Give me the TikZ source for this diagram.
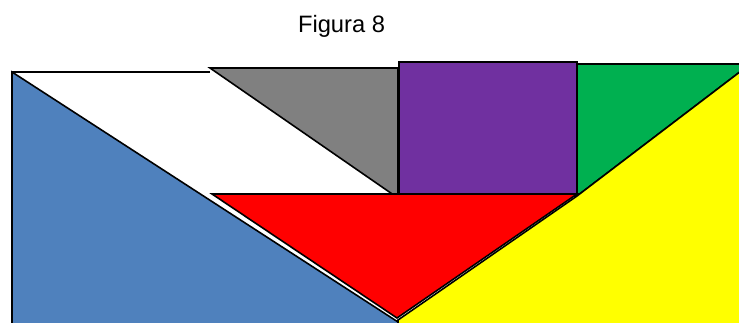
\documentclass[tikz,border=0pt]{standalone}
\usepackage{fontspec}
\setmainfont{Liberation Sans}
\definecolor{tblue}{HTML}{4F81BD}
\definecolor{tgray}{HTML}{808080}
\definecolor{tpurple}{HTML}{7030A0}
\definecolor{tgreen}{HTML}{00B050}
\definecolor{tyellow}{HTML}{FFFF00}
\definecolor{tred}{HTML}{FF0000}
\begin{document}
\begin{tikzpicture}[x=1pt,y=-1pt,
  piece/.style={draw=black,line width=1.6pt,line join=miter}]
\useasboundingbox (0,0) rectangle (739,322);
\clip (0,0) rectangle (739,322);
\node[font=\fontsize{23.7}{28}\selectfont,anchor=base] (title) at (341.5,32.7) {Figura 8};
% white parallelogram (top edge only visible)
\fill[white] (12,72) -- (210,72) -- (398,198) -- (212,194) -- cycle;
\draw[piece] (12,72) -- (210,72);
% blue triangle
\draw[piece,fill=tblue] (12,72) -- (398,322) -- (398,330) -- (12,330) -- cycle;
% gray triangle
\draw[piece,fill=tgray] (210,68) -- (398,68) -- (398,198) -- cycle;
% purple square
\draw[piece,fill=tpurple] (399,62) rectangle (577,196);
% green triangle
\draw[piece,fill=tgreen] (577,64) -- (745,64) -- (745,68) -- (577,196) -- cycle;
% yellow
\draw[piece,fill=tyellow] (398,320) -- (577,196) -- (745,68) -- (745,330) -- (398,330) -- cycle;
% red triangle
\draw[piece,fill=tred] (212,194) -- (577,194) -- (397,318) -- cycle;
\end{tikzpicture}
\end{document}
